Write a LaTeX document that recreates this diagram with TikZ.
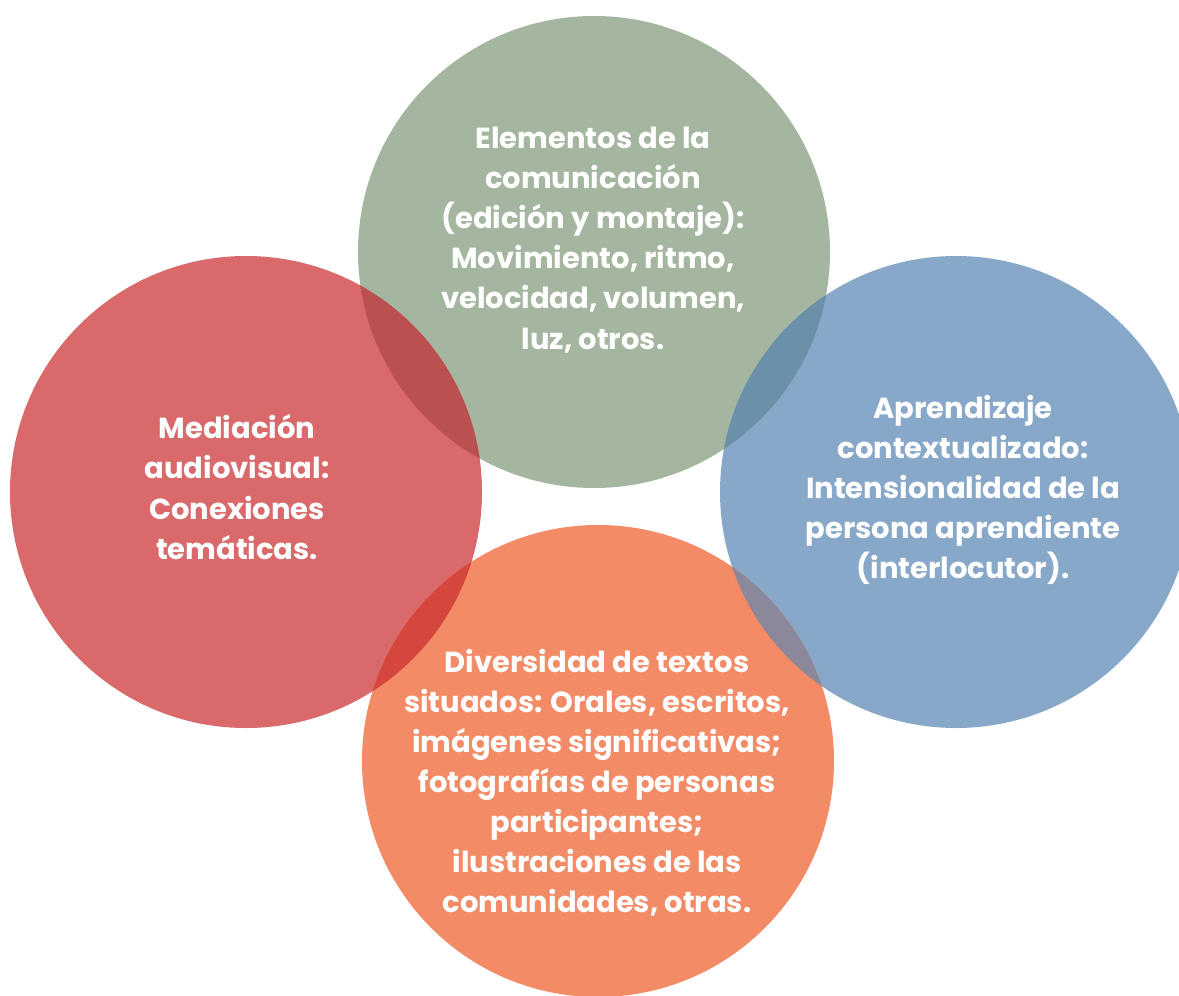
\documentclass[tikz,border=0pt]{standalone}
\usepackage{fontspec}
\setmainfont{Poppins}[UprightFont=* Bold]
\usepackage{tikz}

\definecolor{verde}{HTML}{A4B5A0}
\definecolor{rojo}{HTML}{D9696B}
\definecolor{azul}{HTML}{87A8C8}
\definecolor{naranja}{HTML}{F38B66}
\definecolor{rojoverde}{HTML}{BB5050}
\definecolor{verdeazul}{HTML}{6A90AA}
\definecolor{rojonaranja}{HTML}{D4463E}
\definecolor{naranjaazul}{HTML}{8A889A}

\tikzset{
  texto/.style={text=white, align=center, font=\fontsize{16.5}{22.8}\selectfont},
}

\begin{document}
\begin{tikzpicture}
	\useasboundingbox (0,0) rectangle (23.58,-19.92);
	\coordinate (cv) at (11.88,-5.04);
	\coordinate (cr) at (4.92,-9.84);
	\coordinate (ca) at (19.12,-9.84);
	\coordinate (cn) at (11.96,-15.22);
	\fill[verde] (cv) circle (4.72);
	\fill[rojo] (cr) circle (4.72);
	\fill[azul] (ca) circle (4.72);
	\fill[naranja] (cn) circle (4.72);
	\begin{scope}
		\clip (cv) circle (4.72);
		\fill[rojoverde] (cr) circle (4.72);
		\fill[verdeazul] (ca) circle (4.72);
	\end{scope}
	\begin{scope}
		\clip (cn) circle (4.72);
		\fill[rojonaranja] (cr) circle (4.72);
		\fill[naranjaazul] (ca) circle (4.72);
	\end{scope}
	\node[texto] (elementos) at (11.86,-4.8) {Elementos de la\\comunicación\\(edición y montaje):\\Movimiento, ritmo,\\velocidad, volumen,\\luz, otros.};
	\node[texto] (mediacion) at (4.74,-9.74) {Mediación\\audiovisual:\\Conexiones\\temáticas.};
	\node[texto] (aprendizaje) at (19.26,-9.8) {Aprendizaje\\contextualizado:\\Intensionalidad de la\\persona aprendiente\\(interlocutor).};
	\node[texto] (diversidad) at (11.94,-15.66) {Diversidad de textos\\situados: Orales, escritos,\\imágenes significativas;\\fotografías de personas\\participantes;\\ilustraciones de las\\comunidades, otras.};
\end{tikzpicture}
\end{document}
